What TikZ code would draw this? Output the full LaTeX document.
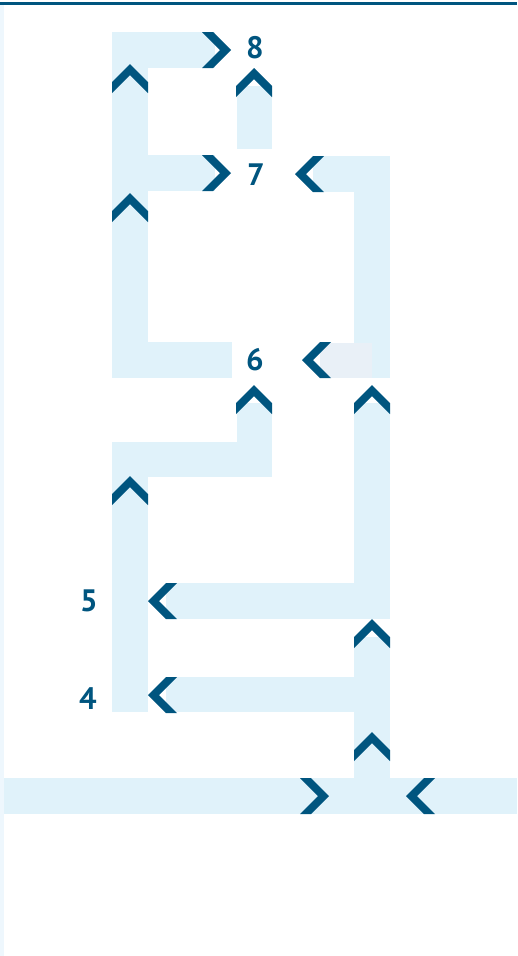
\documentclass[tikz,border=0pt]{standalone}
\usepackage{fontspec}
\setmainfont{PT Sans}
\definecolor{chevblue}{HTML}{00557F}
\definecolor{bandblue}{HTML}{E0F2FA}
\definecolor{bandgrey}{HTML}{E9F0F7}
\definecolor{edgeblue}{HTML}{EEF7FD}
\tikzset{
  band/.style={fill=bandblue},
  chev/.style={fill=chevblue},
  lvl/.style={text=chevblue, font=\bfseries\fontsize{31}{33}\selectfont, inner sep=0pt},
  pics/chevup/.style={code={\fill[chev] (-18,18) -- (0,0) -- (18,18) -- (18,29) -- (0,11) -- (-18,29) -- cycle;}},
  pics/chevright/.style={code={\fill[chev] (-18,-18) -- (0,0) -- (-18,18) -- (-29,18) -- (-11,0) -- (-29,-18) -- cycle;}},
  pics/chevleft/.style={code={\fill[chev] (18,-18) -- (0,0) -- (18,18) -- (29,18) -- (11,0) -- (29,-18) -- cycle;}}
}
\begin{document}
\begin{tikzpicture}[x=1pt,y=-1pt]

    \useasboundingbox (0,0) rectangle (517,956);

    % Rahmen
    \fill[edgeblue] (0,5) rectangle (4,956);
    \fill[chevblue] (0,2) rectangle (517,5);

    % --------------------------
    % oberer Teil (6 bis 8)
    % --------------------------
    \fill[band] (112,32) rectangle (215,68);
    \fill[band] (112,32) rectangle (148,378);
    \fill[band] (148,155) rectangle (215,191);
    \fill[band] (148,342) rectangle (232,378);
    \fill[band] (237,86) rectangle (272,149);

    \fill[band] (313,156) rectangle (390,192);
    \fill[band] (354,156) rectangle (390,378);
    \fill[bandgrey] (320,343) rectangle (372,378);

    % --------------------------
    % mittlerer Teil (4 bis 6)
    % --------------------------
    \fill[band] (237,403) rectangle (272,477);
    \fill[band] (112,442) rectangle (272,477);
    \fill[band] (112,442) rectangle (148,712);
    \fill[band] (354,403) rectangle (390,619);
    \fill[band] (166,583) rectangle (390,619);
    \fill[band] (354,637) rectangle (390,778);
    \fill[band] (166,677) rectangle (390,712);

    % Sohle
    \fill[band] (4,778) rectangle (517,814);

    % Pfeile
    \foreach \x/\y in {130/64, 130/193, 254/68, 254/385, 372/385, 130/476, 372/619, 372/732}
        \pic at (\x,\y) {chevup};
    \foreach \x/\y in {231/50, 231/173, 329/796}
        \pic at (\x,\y) {chevright};
    \foreach \x/\y in {295/174, 302/360, 148/601, 148/695, 406/796}
        \pic at (\x,\y) {chevleft};

    % Ebenen
    \node[lvl] (l8) at (255,48) {8};
    \node[lvl] (l7) at (256,175) {7};
    \node[lvl] (l6) at (255,360) {6};
    \node[lvl] (l5) at (89,601) {5};
    \node[lvl] (l4) at (88,699) {4};

\end{tikzpicture}
\end{document}
